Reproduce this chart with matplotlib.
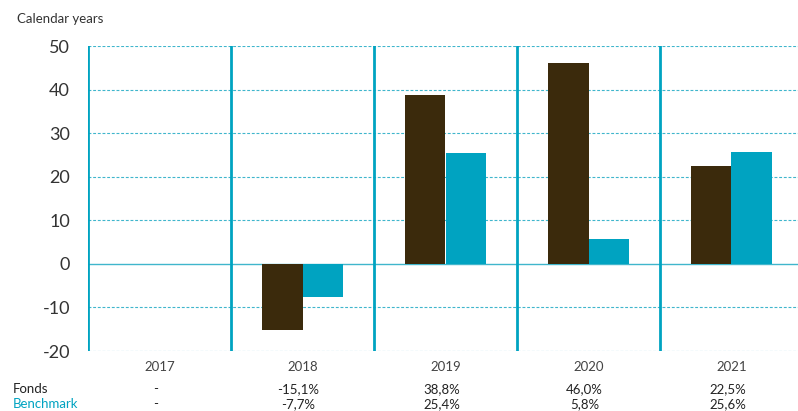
import matplotlib.pyplot as plt
import numpy as np

plt.rcParams['font.family'] = ['Lato', 'DejaVu Sans']

years = ['2017', '2018', '2019', '2020', '2021']
fonds = [np.nan, -15.1, 38.8, 46.0, 22.5]
benchmark = [np.nan, -7.7, 25.4, 5.8, 25.6]
fonds_txt = ['-', '-15,1%', '38,8%', '46,0%', '22,5%']
bench_txt = ['-', '-7,7%', '25,4%', '5,8%', '25,6%']
yticks = [-20, -10, 0, 10, 20, 30, 40, 50]

brown = '#3b2a0c'
teal = '#00a3c1'
grid_c = '#40b6cc'

fig = plt.figure(figsize=(7.98, 4.11), dpi=100)
ax = fig.add_axes([88 / 798, 1 - 351 / 411, 1 - 88 / 798, (351 - 46) / 411])

x = np.arange(len(years))
w = 0.28
ax.bar(x - w / 2, fonds, w, color=brown, zorder=3)
ax.bar(x + w / 2, benchmark, w, color=teal, zorder=3)

for t in yticks:
    if t == 0:
        ax.axhline(t, color=grid_c, lw=1.0, zorder=2)
    else:
        ax.axhline(t, color=grid_c, lw=0.8, ls=(0, (2.6, 1.6)), zorder=1)
for v in np.arange(-0.5, len(years) - 0.5, 1):
    ax.axvline(v, color=teal, lw=2.0, zorder=4)

ax.set_xlim(-0.5, (798 - 88) / 143 - 0.5)
ax.set_ylim(-20, 50)
ax.set_yticks(yticks)
ax.set_yticklabels([str(t) for t in yticks], fontsize=13, color='#333333')
ax.tick_params(axis='y', length=0, pad=13)
ax.set_xticks([])
for s in ax.spines.values():
    s.set_visible(False)

for i, yr in enumerate(years):
    ax.annotate(yr, (i, 0), xycoords=('data', 'figure pixels'),
                xytext=(0, 411 - 367), textcoords='offset pixels',
                ha='center', va='center', fontsize=9.5, color='#444444')
    ax.annotate(fonds_txt[i], (i, 0), xycoords=('data', 'figure pixels'),
                xytext=(-4, 411 - 389), textcoords='offset pixels',
                ha='center', va='center', fontsize=9.5, color='#222222')
    ax.annotate(bench_txt[i], (i, 0), xycoords=('data', 'figure pixels'),
                xytext=(-4, 411 - 404), textcoords='offset pixels',
                ha='center', va='center', fontsize=9.5, color='#222222')

fig.text(13 / 798, 1 - 389 / 411, 'Fonds', fontsize=9.5, color='#222222', va='center')
fig.text(13 / 798, 1 - 404 / 411, 'Benchmark', fontsize=9.5, color=teal, va='center')
fig.text(17 / 798, 1 - 19 / 411, 'Calendar years', fontsize=9.5, color='#333333', va='center')

fig.savefig('out.png', dpi=100)
